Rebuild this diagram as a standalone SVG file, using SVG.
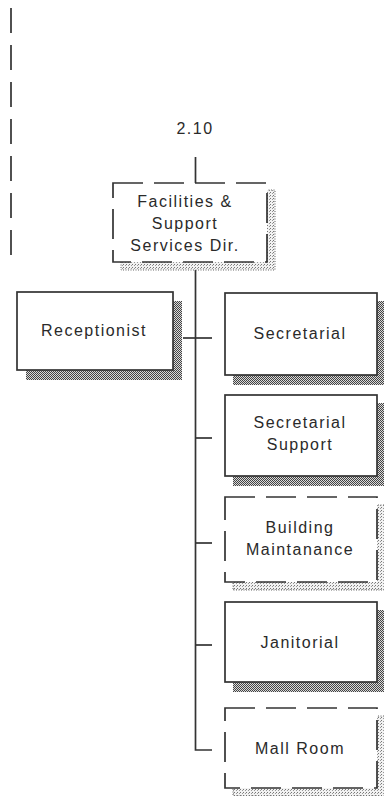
<svg xmlns="http://www.w3.org/2000/svg" width="384" height="796" viewBox="0 0 384 796">
  <defs>
    <!-- dense stipple used for solid-box drop shadows -->
    <pattern id="stippleDense" width="2" height="2" patternUnits="userSpaceOnUse">
      <rect width="2" height="2" fill="#d9d9d9"/>
      <rect x="0" y="0" width="1" height="1" fill="#444"/>
      <rect x="1" y="1" width="1" height="1" fill="#444"/>
    </pattern>
    <!-- sparse stipple used for dashed-box drop shadows -->
    <pattern id="stippleLight" width="3" height="3" patternUnits="userSpaceOnUse">
      <rect width="3" height="3" fill="#f2f2f2"/>
      <rect x="0" y="0" width="1" height="1" fill="#777"/>
      <rect x="2" y="1" width="1" height="1" fill="#999"/>
    </pattern>
  </defs>
  <style>
    .box { fill: #fff; stroke: #333; stroke-width: 1.7; }
    .dashed { stroke-dasharray: 30 11; }
    .shadow { fill: url(#stippleDense); }
    .shadowLight { fill: url(#stippleLight); stroke: #666; stroke-width: 1; stroke-dasharray: 1 1.5; }
    .conn { fill: none; stroke: #333; stroke-width: 1.7; }
    .label { font-family: "Liberation Sans", Arial, sans-serif; font-size: 16px; fill: #2a2a2a; text-anchor: middle; letter-spacing: 1.5px; }
  </style>

  <rect width="384" height="796" fill="#fff"/>

  <!-- connectors -->
  <g id="connectors">
    <line class="conn" x1="11" y1="8" x2="11" y2="262" stroke-dasharray="25 12"/>
    <line class="conn" x1="195.5" y1="157" x2="195.5" y2="183"/>
    <path class="conn" d="M195.5 262 V750 H212"/>
    <line class="conn" x1="183" y1="338" x2="212" y2="338"/>
    <line class="conn" x1="195.5" y1="438" x2="212" y2="438"/>
    <line class="conn" x1="195.5" y1="543" x2="212" y2="543"/>
    <line class="conn" x1="195.5" y1="645" x2="212" y2="645"/>
  </g>

  <g id="code">
    <text class="label" x="195" y="134">2.10</text>
  </g>

  <g id="facilities">
    <rect class="shadowLight" x="121" y="190" width="154" height="80"/>
    <rect class="box dashed" x="113" y="183" width="154" height="79"/>
    <text class="label" x="185" y="207">Facilities &amp;</text>
    <text class="label" x="185" y="229">Support</text>
    <text class="label" x="185" y="251">Services Dir.</text>
  </g>

  <g id="receptionist">
    <rect class="shadow" x="26" y="301" width="156" height="79"/>
    <rect class="box" x="17" y="292" width="156" height="78"/>
    <text class="label" x="94" y="336">Receptionist</text>
  </g>

  <g id="secretarial">
    <rect class="shadow" x="233" y="301" width="152" height="84"/>
    <rect class="box" x="225" y="293" width="152" height="82"/>
    <text class="label" x="300" y="339">Secretarial</text>
  </g>

  <g id="secretarial-support">
    <rect class="shadow" x="233" y="403" width="152" height="83"/>
    <rect class="box" x="225" y="395" width="152" height="81"/>
    <text class="label" x="300" y="428">Secretarial</text>
    <text class="label" x="300" y="450">Support</text>
  </g>

  <g id="building-maintanance">
    <rect class="shadowLight" x="233" y="505" width="152" height="85"/>
    <rect class="box dashed" x="225" y="497" width="152" height="85"/>
    <text class="label" x="300" y="533">Building</text>
    <text class="label" x="300" y="555">Maintanance</text>
  </g>

  <g id="janitorial">
    <rect class="shadow" x="233" y="610" width="152" height="82"/>
    <rect class="box" x="225" y="602" width="152" height="80"/>
    <text class="label" x="300" y="648">Janitorial</text>
  </g>

  <g id="mail-room">
    <rect class="shadowLight" x="233" y="716" width="152" height="80"/>
    <rect class="box dashed" x="225" y="708" width="152" height="80"/>
    <text class="label" x="300" y="754">Mall Room</text>
  </g>
</svg>
